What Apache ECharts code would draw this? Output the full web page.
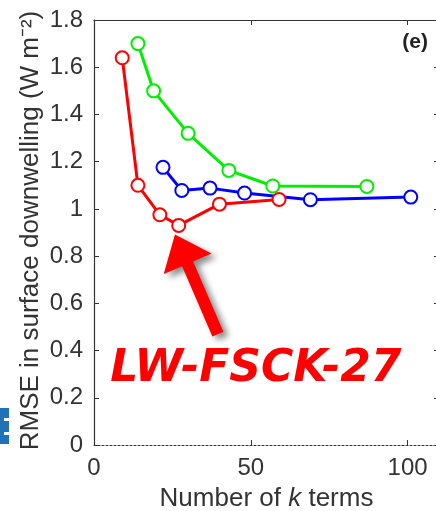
<!DOCTYPE html>
<html>
<head>
<meta charset="utf-8">
<script src="https://cdn.jsdelivr.net/npm/echarts@6/dist/echarts.min.js"></script>
<style>
  html, body { margin: 0; padding: 0; background: #fff; }
  #container { width: 436px; height: 511px; }
</style>
</head>
<body>
<div id="container"></div>
<script>
// RMSE vs number of k terms, three model families
const redX = [9, 14, 21, 27, 40, 59];
const redY = [1.64, 1.10, 0.975, 0.93, 1.02, 1.04];
const greenX = [14, 19, 30, 43, 57, 87];
const greenY = [1.70, 1.50, 1.32, 1.163, 1.097, 1.095];
const blueX = [22, 28, 37, 48, 69, 101];
const blueY = [1.176, 1.078, 1.088, 1.067, 1.039, 1.05];

const xTicks = [0, 50, 100];
const yMax = 1.8;
const yTitle = 'RMSE in surface downwelling (W m⁻²)';

// annotation anchors (data coords)
const arrowTail = [39.5, 0.47];
const arrowTip = [25.8, 0.892];
const noteAt = [51.6, 0.32];
const noteText = 'LW-FSCK-27';

const axisCol = '#333';
const fontFam = '"Liberation Sans", Arial, sans-serif';

let dom = document.getElementById('container');
let myChart = echarts.init(dom, null, { renderer: 'canvas' });

function pairs(xs, ys) {
  return xs.map(function (x, i) { return [x, ys[i]]; });
}

function mkSeries(name, color, xs, ys) {
  return {
    name: name,
    type: 'line',
    data: pairs(xs, ys),
    symbol: 'emptyCircle',
    symbolSize: 13,
    lineStyle: { color: color, width: 3 },
    itemStyle: { color: color, borderColor: color, borderWidth: 3 },
    animation: false,
    z: 3
  };
}

let option = {
  animation: false,
  grid: { left: 94, top: 20, width: 345, height: 425, containLabel: false, outerBoundsMode: 'none' },
  xAxis: [{
    type: 'value', min: 0, max: 110, interval: 50,
    name: '{a|Number of }{b|k}{a| terms}',
    nameLocation: 'middle', nameGap: 41,
    nameTextStyle: {
      rich: {
        a: { fontSize: 26, color: axisCol, fontFamily: fontFam },
        b: { fontSize: 26, color: axisCol, fontFamily: fontFam, fontStyle: 'italic' }
      }
    },
    axisLine: { show: true, onZero: false, lineStyle: { color: axisCol, width: 1.2, type: [2, 2] } },
    axisTick: { show: true, inside: true, length: 5, lineStyle: { color: axisCol } },
    axisLabel: {
      fontSize: 24, color: axisCol, fontFamily: fontFam, margin: 11,
      formatter: function (v) { return xTicks.indexOf(v) >= 0 ? String(v) : ''; }
    },
    splitLine: { show: false }
  }, {
    type: 'value', min: 0, max: 110, interval: 50, position: 'top',
    axisLine: { show: true, onZero: false, lineStyle: { color: axisCol, width: 1.2 } },
    axisTick: { show: true, inside: true, length: 5, lineStyle: { color: axisCol } },
    axisLabel: { show: false },
    splitLine: { show: false }
  }],
  yAxis: [{
    type: 'value', min: 0, max: yMax, interval: 0.2,
    axisLine: { show: true, onZero: false, lineStyle: { color: axisCol, width: 1.2 } },
    axisTick: { show: true, inside: true, length: 5, lineStyle: { color: axisCol } },
    axisLabel: {
      fontSize: 24, color: axisCol, fontFamily: fontFam, margin: 11,
      formatter: function (v) { return String(+v.toFixed(1)); }
    },
    splitLine: { show: false }
  }, {
    type: 'value', min: 0, max: yMax, interval: 0.2, position: 'right',
    axisLine: { show: true, onZero: false, lineStyle: { color: axisCol, width: 1.2 } },
    axisTick: { show: true, inside: true, length: 5, lineStyle: { color: axisCol } },
    axisLabel: { show: false },
    splitLine: { show: false }
  }],
  series: [
    mkSeries('green', '#00ee00', greenX, greenY),
    mkSeries('blue', '#0000ff', blueX, blueY),
    mkSeries('red', '#ff0000', redX, redY)
  ]
};

myChart.setOption(option);

// arrow + note, positioned from data coords
let pTail = myChart.convertToPixel({ xAxisIndex: 0, yAxisIndex: 0 }, arrowTail);
let pTip = myChart.convertToPixel({ xAxisIndex: 0, yAxisIndex: 0 }, arrowTip);
let pNote = myChart.convertToPixel({ xAxisIndex: 0, yAxisIndex: 0 }, noteAt);
let pMid = myChart.convertToPixel({ xAxisIndex: 0, yAxisIndex: 0 }, [0, yMax / 2]);

let dx = pTip[0] - pTail[0], dy = pTip[1] - pTail[1];
let len = Math.sqrt(dx * dx + dy * dy);
let ux = dx / len, uy = dy / len;
let nx = -uy, ny = ux;
const shaftHalf = 6, headHalf = 26, headLen = 32;
let bx = pTip[0] - ux * headLen, by = pTip[1] - uy * headLen;
let arrowPts = [
  [pTail[0] + nx * shaftHalf, pTail[1] + ny * shaftHalf],
  [bx + nx * shaftHalf, by + ny * shaftHalf],
  [bx + nx * headHalf, by + ny * headHalf],
  [pTip[0], pTip[1]],
  [bx - nx * headHalf, by - ny * headHalf],
  [bx - nx * shaftHalf, by - ny * shaftHalf],
  [pTail[0] - nx * shaftHalf, pTail[1] - ny * shaftHalf]
];

myChart.setOption({
  graphic: {
    elements: [{
      // y axis title
      type: 'text',
      x: pMid[0] - 63, y: pMid[1] - 2,
      rotation: Math.PI / 2,
      style: {
        text: yTitle,
        font: '26px "Liberation Sans", Arial, sans-serif',
        fill: axisCol,
        align: 'center', verticalAlign: 'middle'
      }
    }, {
      type: 'polygon',
      shape: { points: arrowPts },
      style: {
        fill: '#ff0000',
        shadowBlur: 6, shadowColor: 'rgba(0,0,0,0.45)',
        shadowOffsetX: 5, shadowOffsetY: 4
      },
      z: 10
    }, {
      type: 'text',
      x: pNote[0], y: pNote[1],
      style: {
        text: noteText,
        font: 'italic bold 44px "DejaVu Sans", sans-serif',
        fill: '#ff0000',
        align: 'center', verticalAlign: 'middle',
        shadowBlur: 4, shadowColor: 'rgba(0,0,0,0.4)',
        shadowOffsetX: 3, shadowOffsetY: 3
      },
      z: 10
    }, {
      type: 'text',
      right: 8, top: 32,
      style: {
        text: '(e)',
        font: 'bold 21px "Liberation Sans", Arial, sans-serif',
        fill: '#222'
      },
      z: 10
    }, {
      // clipped logo piece on the far left
      type: 'group', left: 0, top: 408,
      children: [
        { type: 'rect', shape: { x: 0, y: 0, width: 9, height: 36 }, style: { fill: '#1f72b8' } },
        { type: 'rect', shape: { x: 4, y: 10, width: 6, height: 3 }, style: { fill: '#fff' } },
        { type: 'rect', shape: { x: 4, y: 24, width: 6, height: 3 }, style: { fill: '#fff' } }
      ]
    }]
  }
});
</script>
</body>
</html>
